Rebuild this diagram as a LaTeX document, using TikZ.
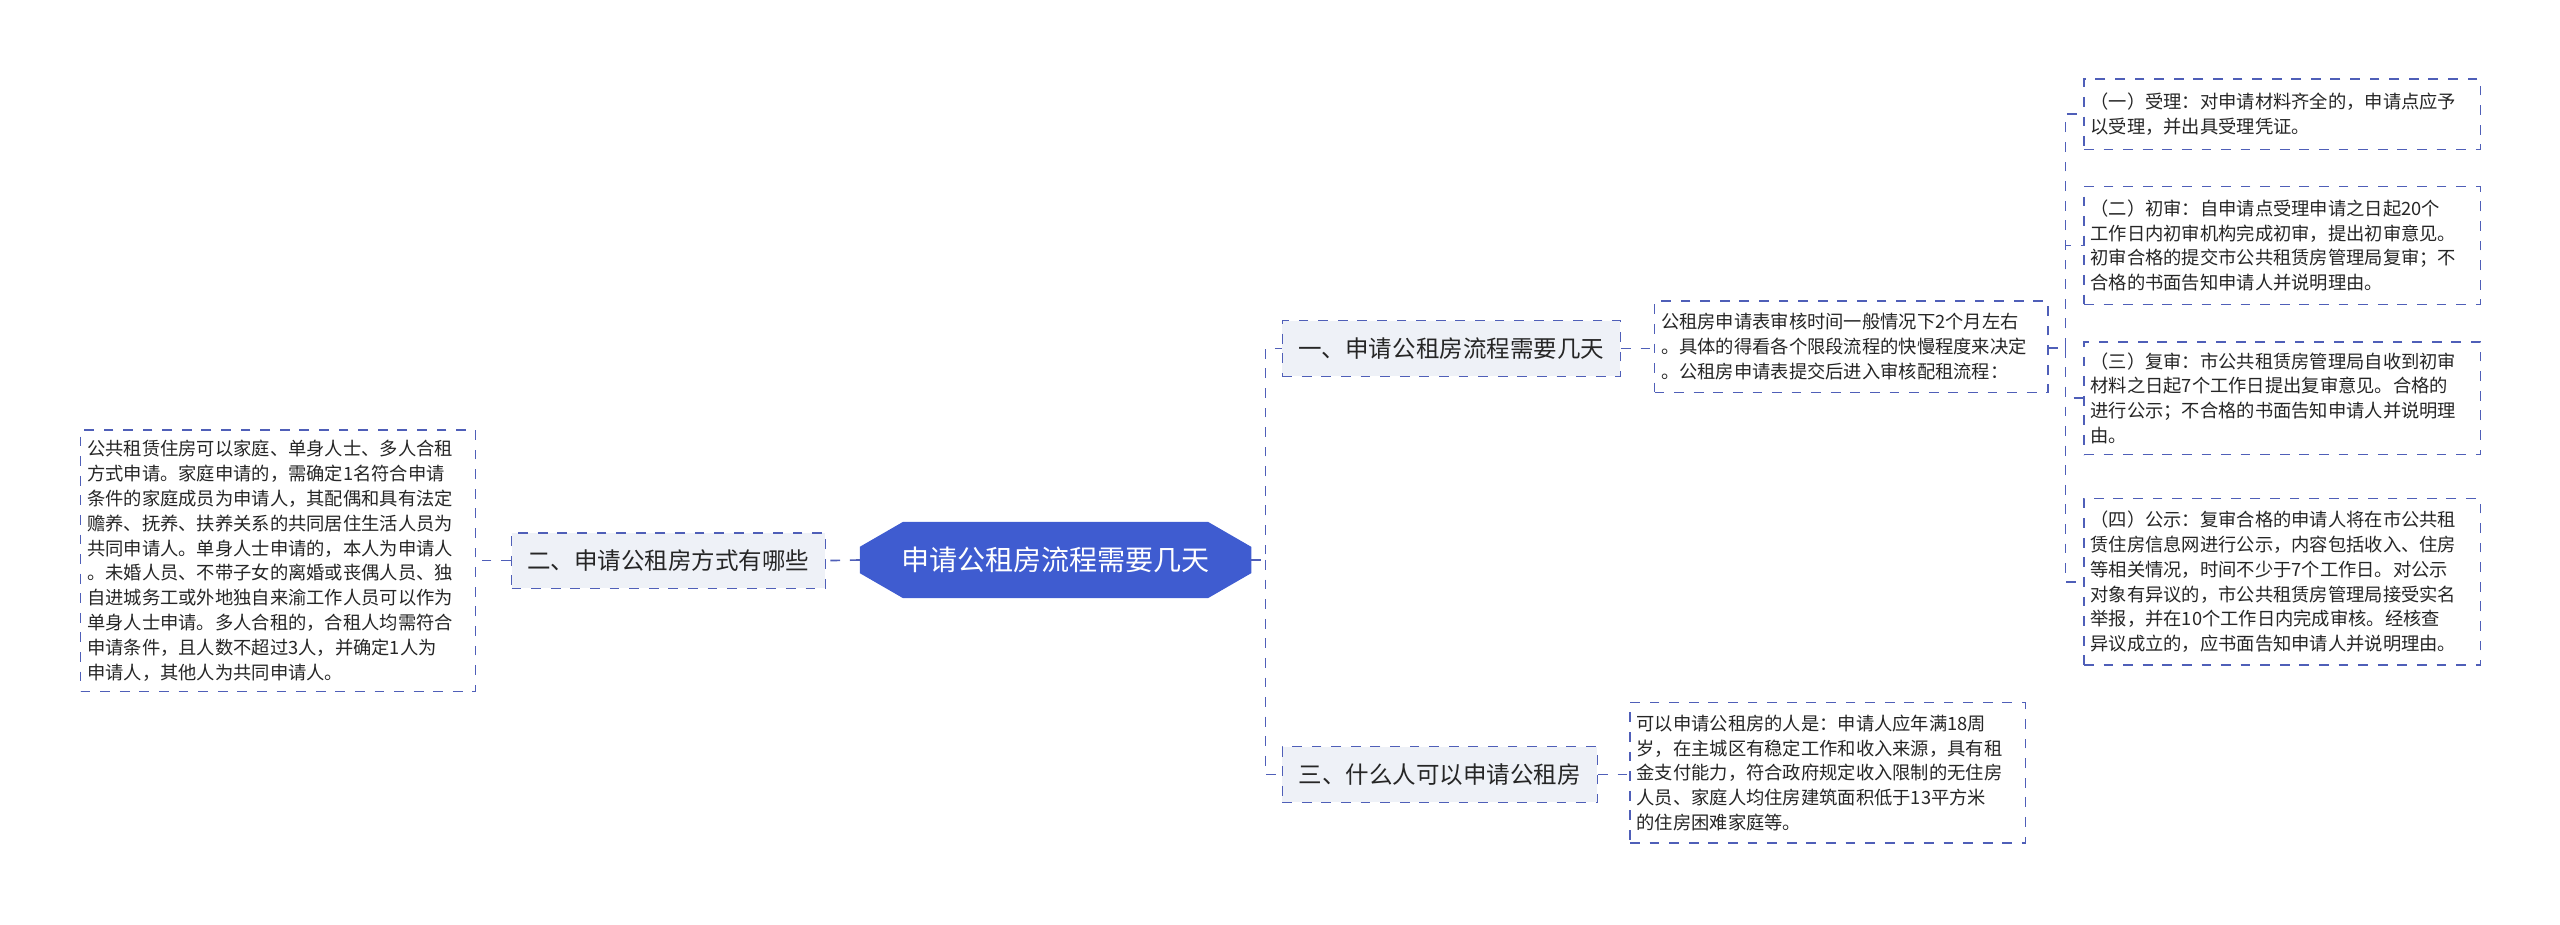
\documentclass[tikz,border=0pt]{standalone}
\usepackage{fontspec}
\setmainfont{Noto Sans CJK SC}
\usetikzlibrary{shapes.misc}
\definecolor{ln}{HTML}{4F5FB8}
\definecolor{cf}{HTML}{3F5CD0}
\definecolor{bf}{HTML}{EEF1F7}
\tikzset{
  x=0.5pt,y=-0.5pt,
  con/.style={draw=ln,dashed,line width=0.5pt},
  topic/.style={draw=ln,dashed,fill=bf,font=\fontsize{7.2}{9}\selectfont,text=black!85,inner sep=0pt,anchor=north west},
  leaf/.style={draw=ln,dashed,fill=white,font=\fontsize{5.6}{7.6}\selectfont,text=black!85,inner sep=0pt,anchor=north west,align=left},
}
\begin{document}
\begin{tikzpicture}
\useasboundingbox (0,0) rectangle (1568,566);
% center
\node[draw=cf,fill=cf,chamfered rectangle,chamfered rectangle xsep=2cm,chamfered rectangle angle=60,minimum width=239*0.5pt,minimum height=46*0.5pt,inner sep=0pt,text=white,font=\fontsize{8.6}{10}\selectfont] (c) at (646.5,343) {申请公租房流程需要几天};
% topics
\node[topic,minimum width=192*0.5pt,minimum height=34*0.5pt] (l) at (313,326) {二、申请公租房方式有哪些};
\node[topic,minimum width=207*0.5pt,minimum height=34*0.5pt] (r1) at (785,196) {一、申请公租房流程需要几天};
\node[topic,minimum width=193*0.5pt,minimum height=34*0.5pt] (r3) at (785,457) {三、什么人可以申请公租房};
% leaves
\node[leaf,minimum width=242*0.5pt,minimum height=160*0.5pt,text width=234*0.5pt] (ll) at (49,263) {公共租赁住房可以家庭、单身人士、多人合租\\方式申请。家庭申请的，需确定1名符合申请\\条件的家庭成员为申请人，其配偶和具有法定\\赡养、抚养、扶养关系的共同居住生活人员为\\共同申请人。单身人士申请的，本人为申请人\\。未婚人员、不带子女的离婚或丧偶人员、独\\自进城务工或外地独自来渝工作人员可以作为\\单身人士申请。多人合租的，合租人均需符合\\申请条件，且人数不超过3人，并确定1人为\\申请人，其他人为共同申请人。};
\node[leaf,minimum width=241*0.5pt,minimum height=56*0.5pt,text width=233*0.5pt] (m) at (1013,184) {公租房申请表审核时间一般情况下2个月左右\\。具体的得看各个限段流程的快慢程度来决定\\。公租房申请表提交后进入审核配租流程：};
\node[leaf,minimum width=243*0.5pt,minimum height=43*0.5pt,text width=235*0.5pt] (a1) at (1276,48) {（一）受理：对申请材料齐全的，申请点应予\\以受理，并出具受理凭证。};
\node[leaf,minimum width=243*0.5pt,minimum height=72*0.5pt,text width=235*0.5pt] (a2) at (1276,114) {（二）初审：自申请点受理申请之日起20个\\工作日内初审机构完成初审，提出初审意见。\\初审合格的提交市公共租赁房管理局复审；不\\合格的书面告知申请人并说明理由。};
\node[leaf,minimum width=243*0.5pt,minimum height=69*0.5pt,text width=235*0.5pt] (a3) at (1276,209) {（三）复审：市公共租赁房管理局自收到初审\\材料之日起7个工作日提出复审意见。合格的\\进行公示；不合格的书面告知申请人并说明理\\由。};
\node[leaf,minimum width=243*0.5pt,minimum height=102*0.5pt,text width=235*0.5pt] (a4) at (1276,305) {（四）公示：复审合格的申请人将在市公共租\\赁住房信息网进行公示，内容包括收入、住房\\等相关情况，时间不少于7个工作日。对公示\\对象有异议的，市公共租赁房管理局接受实名\\举报，并在10个工作日内完成审核。经核查\\异议成立的，应书面告知申请人并说明理由。};
\node[leaf,minimum width=242*0.5pt,minimum height=86*0.5pt,text width=234*0.5pt] (w) at (998,430) {可以申请公租房的人是：申请人应年满18周\\岁，在主城区有稳定工作和收入来源，具有租\\金支付能力，符合政府规定收入限制的无住房\\人员、家庭人均住房建筑面积低于13平方米\\的住房困难家庭等。};
% connectors
\coordinate (j1) at (775,343);
\draw[con] (c.east) -- (j1) |- (r1.west);
\draw[con] (j1) |- (r3.west);
\draw[con] (c.west) -- (l.east);
\draw[con] (l.west) -- (ll.east |- l.west);
\draw[con] (r1.east) -- (m.west |- r1.east);
\draw[con] (r3.east) -- (w.west |- r3.east);
\coordinate (j2) at (1265,213);
\draw[con] (m.east |- j2) -- (j2);
\draw[con] (j2) |- (a1.west);
\draw[con] (j2) |- (a2.west);
\draw[con] (j2) |- (a3.west);
\draw[con] (j2) |- (a4.west);
\end{tikzpicture}
\end{document}
